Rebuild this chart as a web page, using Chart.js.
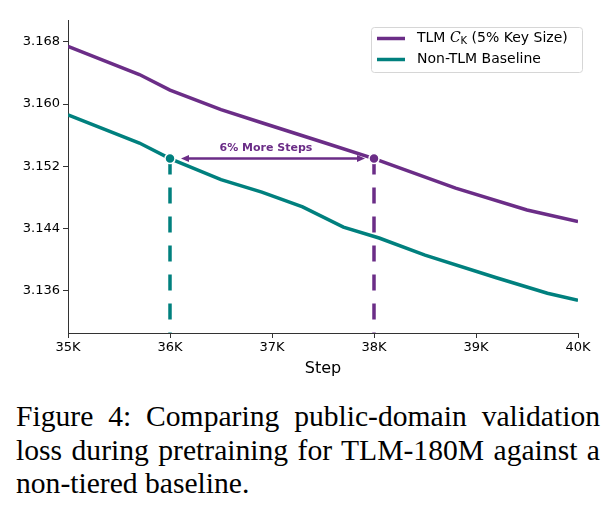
<!DOCTYPE html>
<html>
<head>
<meta charset="utf-8">
<script src="https://cdn.jsdelivr.net/npm/chart.js@4.4.1/dist/chart.umd.min.js"></script>
<style>
  body { margin: 0; background: #fff; width: 616px; height: 514px; position: relative; overflow: hidden; }
  #c { position: absolute; left: 0; top: 0; }
  .cap { position: absolute; left: 16px; width: 584px; top: 400px; font: 29.6px "Liberation Serif", "Times New Roman", serif; line-height: 33.5px; color: #000; }
  .cap div { text-align: justify; text-align-last: justify; white-space: nowrap; }
  .cap div.last { text-align-last: left; }
</style>
</head>
<body>
<canvas id="c" width="616" height="390"></canvas>
<div class="cap">
  <div>Figure 4: Comparing public-domain validation</div>
  <div>loss during pretraining for TLM-180M against a</div>
  <div class="last">non-tiered baseline.</div>
</div>
<script>
const tlmSteps = [35000, 35700, 36000, 36500, 36900, 37500, 38000, 38800, 39500, 40000]
const tlmLoss = [3.1674, 3.1638, 3.1618, 3.1593, 3.1576, 3.1551, 3.1530, 3.1492, 3.1464, 3.1449]
const baseSteps = [35000, 35700, 36000, 36500, 36900, 37300, 37700, 38050, 38500, 39200, 39700, 40000]
const baseLoss = [3.1586, 3.1550, 3.1530, 3.1503, 3.1487, 3.1468, 3.1442, 3.1428, 3.1406, 3.1377, 3.1357, 3.1348]
// matching-loss points: baseline reaches 3.153 at 36K, TLM at 38K
const matchSteps = [36000, 38000]
const matchLoss = [3.1530, 3.1530]
const xTicks = [35000, 36000, 37000, 38000, 39000, 40000]
const yTicks = [3.136, 3.144, 3.152, 3.160, 3.168]
const yMin = 3.1306
const yMax = 3.1708

const PURPLE = "#6b2d87"
const TEAL = "#00807e"
const FONT = '"DejaVu Sans", sans-serif'

const pts = (xs, ys) => xs.map((x, i) => ({ x, y: ys[i] }))

const annotations = {
  id: "annotations",
  afterDatasetsDraw(chart) {
    const { ctx, scales: { x, y } } = chart
    const ay = y.getPixelForValue(matchLoss[0])
    const x1 = x.getPixelForValue(matchSteps[0]) + 11
    const x2 = x.getPixelForValue(matchSteps[1]) - 9
    ctx.save()
    ctx.strokeStyle = PURPLE
    ctx.fillStyle = PURPLE
    ctx.lineWidth = 2.5
    ctx.beginPath()
    ctx.moveTo(x1 + 6, ay)
    ctx.lineTo(x2 - 6, ay)
    ctx.stroke()
    const head = (tx, dir) => {
      ctx.beginPath()
      ctx.moveTo(tx, ay)
      ctx.lineTo(tx - dir * 8, ay - 3.5)
      ctx.lineTo(tx - dir * 8, ay + 3.5)
      ctx.closePath()
      ctx.fill()
    }
    head(x1, -1)
    head(x2, 1)
    ctx.font = "bold 11px " + FONT
    ctx.textAlign = "center"
    ctx.textBaseline = "alphabetic"
    ctx.fillText("6% More Steps", (x1 + x2) / 2 - 7, ay - 8)
    ctx.restore()
  },
}

const legendBox = {
  id: "legendBox",
  afterDraw(chart) {
    const { ctx } = chart
    const bx = 371, by = 27, bw = 211, bh = 45
    ctx.save()
    ctx.fillStyle = "rgba(255,255,255,0.8)"
    ctx.strokeStyle = "#d6d6d6"
    ctx.lineWidth = 1
    ctx.beginPath()
    ctx.roundRect(bx + 0.5, by + 0.5, bw, bh, 3)
    ctx.fill()
    ctx.stroke()
    const rows = [
      { color: PURPLE, y: by + 11.5 },
      { color: TEAL, y: by + 32.5 },
    ]
    rows.forEach(r => {
      ctx.strokeStyle = r.color
      ctx.lineWidth = 3.5
      ctx.beginPath()
      ctx.moveTo(bx + 6, r.y)
      ctx.lineTo(bx + 34, r.y)
      ctx.stroke()
    })
    ctx.fillStyle = "#000"
    ctx.textBaseline = "middle"
    ctx.textAlign = "left"
    let tx = bx + 46
    ctx.font = "14px " + FONT
    ctx.fillText("TLM ", tx, rows[0].y)
    tx += ctx.measureText("TLM ").width
    ctx.font = "italic 14px 'DejaVu Serif', serif"
    ctx.fillText("C", tx, rows[0].y)
    tx += ctx.measureText("C").width
    ctx.font = "10px " + FONT
    ctx.fillText("K", tx, rows[0].y + 3)
    tx += ctx.measureText("K").width
    ctx.font = "14px " + FONT
    ctx.fillText(" (5% Key Size)", tx, rows[0].y)
    ctx.fillText("Non-TLM Baseline", bx + 46, rows[1].y)
    ctx.restore()
  },
}

new Chart(document.getElementById("c"), {
  type: "line",
  data: {
    datasets: [
      {
        data: pts(matchSteps, matchLoss),
        showLine: false,
        pointRadius: 5,
        pointBorderWidth: 1.5,
        pointBorderColor: "#fff",
        pointBackgroundColor: [TEAL, PURPLE],
        order: 0,
      },
      {
        label: "TLM",
        data: pts(tlmSteps, tlmLoss),
        borderColor: PURPLE,
        borderWidth: 3.5,
        pointRadius: 0,
        tension: 0,
        order: 1,
      },
      {
        label: "Non-TLM Baseline",
        data: pts(baseSteps, baseLoss),
        borderColor: TEAL,
        borderWidth: 3.5,
        pointRadius: 0,
        tension: 0,
        order: 1,
      },
      {
        data: [{ x: matchSteps[0], y: matchLoss[0] }, { x: matchSteps[0], y: yMin }],
        borderColor: TEAL,
        borderWidth: 3.5,
        borderDash: [16, 13],
        pointRadius: 0,
        order: 2,
      },
      {
        data: [{ x: matchSteps[1], y: matchLoss[1] }, { x: matchSteps[1], y: yMin }],
        borderColor: PURPLE,
        borderWidth: 3.5,
        borderDash: [16, 13],
        pointRadius: 0,
        order: 2,
      },
    ],
  },
  options: {
    responsive: false,
    animation: false,
    devicePixelRatio: 1,
    layout: { padding: { left: 0, right: 38, top: 20, bottom: 11.4 } },
    plugins: { legend: { display: false }, tooltip: { enabled: false } },
    scales: {
      x: {
        type: "linear",
        min: 35000,
        max: 40000,
        afterFit: s => { s.height = 45.6 },
        afterBuildTicks: s => { s.ticks = xTicks.map(value => ({ value })) },
        grid: { drawOnChartArea: false, tickLength: 5, color: "#333", lineWidth: 1 },
        border: { color: "#333", width: 1 },
        ticks: { font: { family: FONT, size: 13 }, color: "#000", padding: 2, maxRotation: 0, callback: v => `${v / 1000}K` },
        title: { display: true, text: "Step", font: { family: FONT, size: 16 }, color: "#000", padding: 0 },
      },
      y: {
        min: yMin,
        max: yMax,
        afterFit: s => { s.width = 68 },
        afterBuildTicks: s => { s.ticks = yTicks.map(value => ({ value })) },
        grid: { drawOnChartArea: false, tickLength: 5, color: "#333", lineWidth: 1 },
        border: { color: "#333", width: 1 },
        ticks: { font: { family: FONT, size: 13 }, color: "#000", padding: 3, callback: v => v.toFixed(3) },
      },
    },
  },
  plugins: [annotations, legendBox],
})
</script>
</body>
</html>
